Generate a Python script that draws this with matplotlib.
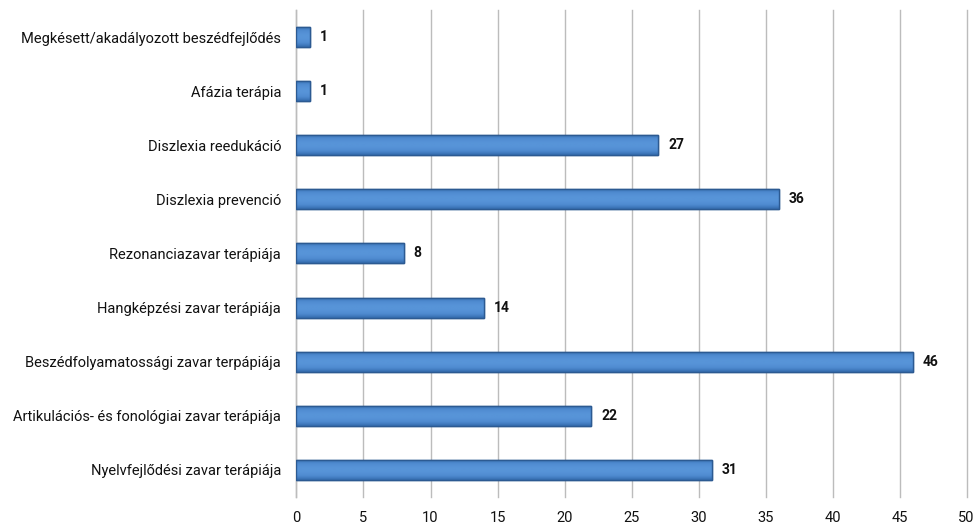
import matplotlib
matplotlib.use("Agg")
import matplotlib.pyplot as plt
import numpy as np
from matplotlib.colors import LinearSegmentedColormap

# categories listed bottom to top
categories = [
    "Nyelvfejlődési zavar terápiája",
    "Artikulációs- és fonológiai zavar terápiája",
    "Beszédfolyamatossági zavar terpápiája",
    "Hangképzési zavar terápiája",
    "Rezonanciazavar terápiája",
    "Diszlexia prevenció",
    "Diszlexia reedukáció",
    "Afázia terápia",
    "Megkésett/akadályozott beszédfejlődés",
]
counts = [31, 22, 46, 14, 8, 36, 27, 1, 1]
x_ticks = list(range(0, 55, 5))

plt.rcParams["font.family"] = ["Roboto", "DejaVu Sans"]

fig = plt.figure(figsize=(9.74, 5.27), dpi=100)
ax = fig.add_axes([0.3044, 0.057, 0.688, 0.924])

y = np.arange(len(categories))
bar_h = 0.37
bars = ax.barh(y, counts, height=bar_h, color="#4a86c8", edgecolor="#2c5a92",
               linewidth=1.0, zorder=3)

# bevelled look: darker near the top/bottom edges, lighter in the middle
shade = LinearSegmentedColormap.from_list(
    "bevel", ["#346cae", "#4f8bd0", "#5794d8", "#5794d8", "#4f8bd0", "#346cae"])
grad = np.linspace(0, 1, 64).reshape(-1, 1)
for b in bars:
    x0, y0 = b.get_x(), b.get_y()
    im = ax.imshow(grad, extent=[x0, x0 + b.get_width(), y0, y0 + b.get_height()],
                   aspect="auto", cmap=shade, origin="lower", zorder=3.5,
                   interpolation="bilinear")
    im.set_clip_path(b)
    ax.add_patch(plt.Rectangle((x0, y0), b.get_width(), b.get_height(),
                               fill=False, edgecolor="#2c5a92", linewidth=1.0, zorder=4))

for yi, v in zip(y, counts):
    ax.annotate(str(v), (v, yi), xytext=(7, 0), textcoords="offset points",
                va="center", ha="left", fontsize=10, fontweight="bold", color="#111111")

ax.set_xlim(0, 50)
ax.set_ylim(-0.5, len(categories) - 0.5)
ax.set_xticks(x_ticks)
ax.set_yticks(y)
ax.set_yticklabels(categories, fontsize=10.5, color="#111111")
ax.tick_params(axis="x", length=0, pad=10, labelsize=10.5, labelcolor="#111111")
ax.tick_params(axis="y", length=0, pad=11)
ax.grid(axis="x", color="#bcbcbc", linewidth=1.0, zorder=0)
for line in ax.get_xgridlines():
    line.set_clip_on(False)
for side in ["top", "right", "bottom"]:
    ax.spines[side].set_visible(False)
ax.spines["left"].set_color("#bcbcbc")
ax.spines["left"].set_linewidth(1.0)

fig.savefig("out.png", dpi=100)
